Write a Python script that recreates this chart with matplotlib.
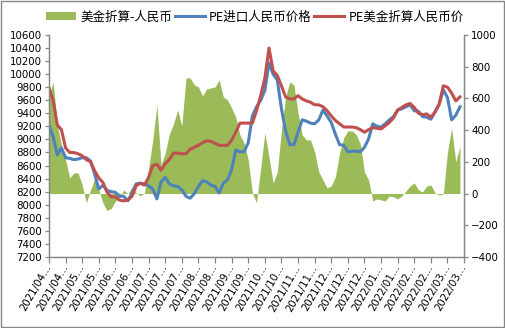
import matplotlib
matplotlib.use('Agg')
import matplotlib.pyplot as plt
import matplotlib.transforms as mtransforms
from matplotlib.patches import Rectangle

plt.rcParams['font.family'] = ['DejaVu Sans', 'Noto Sans CJK SC']

# 价格序列（元/吨），以及美金折算价差
pe_import = [9220, 9040, 8760, 8870, 8720, 8710, 8690, 8700, 8720, 8720,
             8670, 8470, 8240, 8300, 8220, 8200, 8190, 8130, 8130, 8060,
             8180, 8320, 8330, 8320, 8290, 8240, 8090, 8350, 8420, 8320,
             8290, 8280, 8230, 8130, 8100, 8170, 8280, 8370, 8350, 8300,
             8280, 8180, 8330, 8380, 8540, 8840, 8810, 8810, 8950, 9360,
             9500, 9600, 9750, 10170, 10000, 9910, 9470, 9130, 8920, 8920,
             9110, 9300, 9280, 9250, 9240, 9300, 9450, 9360, 9260, 9080,
             8920, 8910, 8810, 8820, 8820, 8810, 8880, 9010, 9240, 9200,
             9190, 9240, 9300, 9350, 9450, 9470, 9500, 9530, 9440, 9430,
             9350, 9340, 9310, 9420, 9540, 9760, 9640, 9300, 9370, 9500]

pe_usd_rmb = [9790, 9600, 9220, 9150, 8870, 8800, 8800, 8780, 8750, 8690,
              8660, 8520, 8410, 8340, 8190, 8120, 8120, 8070, 8060, 8070,
              8130, 8290, 8330, 8300, 8420, 8600, 8620, 8530, 8630, 8690,
              8790, 8790, 8780, 8780, 8850, 8880, 8910, 8950, 8980, 8970,
              8940, 8910, 8910, 8910, 8990, 9110, 9250, 9250, 9250, 9250,
              9440, 9670, 9940, 10400, 10050, 9980, 9820, 9650, 9620, 9620,
              9670, 9620, 9590, 9570, 9530, 9530, 9500, 9440, 9360, 9290,
              9240, 9190, 9190, 9190, 9180, 9150, 9110, 9150, 9180, 9170,
              9160, 9210, 9260, 9330, 9450, 9490, 9530, 9550, 9490, 9400,
              9380, 9390, 9340, 9420, 9540, 9820, 9800, 9710, 9590, 9650]

spread = [615, 704, 433, 306, 212, 98, 130, 130, 54, -59,
          23, 92, 23, -59, -107, -94, -47, -25, 23, -3,
          42, 4, -15, 4, 161, 338, 559, 180, 256, 376,
          439, 527, 426, 729, 729, 685, 672, 615, 660, 666,
          672, 716, 609, 590, 540, 483, 370, 319, 212, 4,
          -59, 161, 382, 231, 67, 136, 401, 609, 704, 685,
          508, 370, 338, 338, 262, 136, 86, 35, 48, 105,
          256, 351, 395, 395, 373, 313, 136, 86, -47, -34,
          -40, -47, -15, -21, -34, -15, 16, 48, 67, 23,
          10, 48, 54, 4, -9, -3, 262, 414, 199, 300]

date_labels = ['2021/04', '2021/04', '2021/05', '2021/05', '2021/06', '2021/06',
               '2021/07', '2021/07', '2021/07', '2021/08', '2021/08', '2021/09',
               '2021/09', '2021/10', '2021/10', '2021/11', '2021/11', '2021/12',
               '2021/12', '2021/12', '2022/01', '2022/01', '2022/02', '2022/02',
               '2022/03', '2022/03']

x = list(range(len(pe_import)))
gray = '#868686'

fig = plt.figure(figsize=(5.05, 3.28), dpi=100)
ax = fig.add_axes([0.097, 0.2165, 0.822, 0.677])
ax2 = ax.twinx()

# 价差面积放在右轴，折线画在上层
area = ax2.fill_between(x, 0, spread, color='#9BBB59', linewidth=0,
                        label='美金折算-人民币')
ax.set_zorder(ax2.get_zorder() + 1)
ax.patch.set_visible(False)
l1, = ax.plot(x, pe_import, color='#4F81BD', lw=2.2, label='PE进口人民币价格')
l2, = ax.plot(x, pe_usd_rmb, color='#C0504D', lw=2.2, label='PE美金折算人民币价')

ax.set_xlim(0, 100)
ax.set_ylim(7200, 10600)
ax.set_yticks(range(7200, 10601, 200))
ax2.set_ylim(-400, 1000)
ax2.set_yticks(range(-400, 1001, 200))

ax.set_xticks(range(0, 101, 4))
ax.set_xticklabels([d + '…' for d in date_labels], rotation=60,
                   rotation_mode='anchor', ha='right', va='center')
offset = mtransforms.ScaledTranslation(8 / 100, -4 / 100, fig.dpi_scale_trans)
for lab in ax.get_xticklabels():
    lab.set_transform(lab.get_transform() + offset)

for a in (ax, ax2):
    a.spines['top'].set_visible(False)
    for s in ('left', 'right', 'bottom'):
        a.spines[s].set_color(gray)
        a.spines[s].set_linewidth(0.9)
    a.tick_params(axis='both', colors=gray, labelcolor='black',
                  labelsize=7.4, length=3, width=0.9, direction='out', pad=2)
ax.tick_params(axis='x', length=4)

fig.legend(handles=[area, l1, l2], loc='center', bbox_to_anchor=(0.505, 0.948),
           ncol=3, frameon=False, fontsize=9, handlelength=2.4,
           handleheight=0.6, handletextpad=0.35, columnspacing=0.2,
           prop={'family': ['Noto Sans CJK SC'], 'size': 9})

fig.patches.append(Rectangle((0.001, 0.002), 0.997, 0.995, transform=fig.transFigure,
                             fill=False, edgecolor=gray, linewidth=1))

fig.savefig('out.png', dpi=100)
